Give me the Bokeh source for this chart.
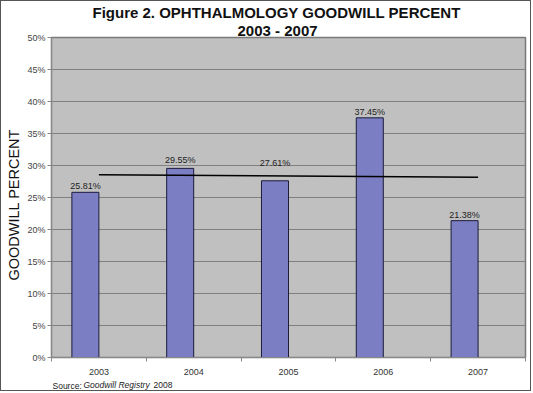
import numpy as np
from bokeh.plotting import figure
from bokeh.models import (Range1d, FixedTicker, Title, ColumnDataSource,
                          PrintfTickFormatter)
from bokeh.core.properties import value
from bokeh.embed import file_html
from bokeh.resources import INLINE

years = ["2003", "2004", "2005", "2006", "2007"]
goodwill = [25.81, 29.55, 27.61, 37.45, 21.38]
value_labels = ["25.81%", "29.55%", "27.61%", "37.45%", "21.38%"]
y_ticks = [0, 5, 10, 15, 20, 25, 30, 35, 40, 45, 50]

# label lift above each bar (px); the 2005 label sits above the trendline
label_lift = [-6, -8, -18, -6, -6]

FONT = "Liberation Sans"

centers = np.arange(len(years)) + 0.5
bar_w = 0.285
bar_x = centers - bar_w / 2

p = figure(width=531, height=391, output_backend="svg", toolbar_location=None,
           x_range=Range1d(0, 5), y_range=Range1d(0, 50),
           min_border_left=50, min_border_right=7, min_border_top=36,
           min_border_bottom=35)
p.styles = {"border": "1px solid #555555"}
p.border_fill_color = "white"
p.background_fill_color = "#c0c0c0"
p.outline_line_color = "#7a7a7a"
p.outline_line_width = 1.5

# title: first line is the figure's own title (outermost)
p.title.text = "Figure 2. OPHTHALMOLOGY GOODWILL PERCENT"
p.title.align = "left"
p.title.offset = 41
p.title.text_font = FONT
p.title.text_font_size = "15px"
p.title.text_font_style = "bold"
p.title.text_color = "#111111"
p.title.standoff = 0
p.add_layout(Title(text="2003 - 2007", align="left", offset=186,
                   text_font=FONT, text_font_size="15px",
                   text_font_style="bold", text_color="#111111", standoff=-2),
             "above")

src = ColumnDataSource(dict(x=bar_x, top=goodwill, lab=value_labels, dy=label_lift))
p.vbar(x="x", top="top", bottom=0, width=bar_w, source=src,
       fill_color="#7b7ec2", line_color="#1c1c3c", line_width=1)
p.text(x="x", y="top", text="lab", source=src, text_align="center",
       text_baseline="alphabetic", y_offset="dy", text_font=value(FONT),
       text_font_size="9px", text_color="#222222")

# linear trendline across category centres
coef = np.polyfit(np.arange(len(goodwill)), goodwill, 1)
trend = np.polyval(coef, np.arange(len(goodwill)))
p.line([centers[0], centers[-1]], [trend[0], trend[-1]], line_color="black",
       line_width=1.6)

# axes
p.yaxis.ticker = FixedTicker(ticks=y_ticks)
p.yaxis.formatter = PrintfTickFormatter(format="%d%%")
p.yaxis.major_label_text_font = FONT
p.yaxis.major_label_text_font_size = "9px"
p.yaxis.major_label_text_color = "#444444"
p.yaxis.major_label_standoff = 2
p.yaxis.major_tick_out = 4
p.yaxis.major_tick_in = 0
p.yaxis.minor_tick_out = 0
p.yaxis.minor_tick_in = 0
p.yaxis.axis_line_color = "#888888"
p.yaxis.major_tick_line_color = "#888888"

p.add_layout(Title(text="GOODWILL PERCENT", align="left", offset=77,
                   text_font=FONT, text_font_size="14.5px", text_font_style="normal",
                   text_color="#111111", standoff=5), "left")

p.xaxis.ticker = FixedTicker(ticks=list(centers), minor_ticks=list(range(6)))
p.xaxis.major_label_overrides = {float(c): y for c, y in zip(centers, years)}
p.xaxis.major_label_text_font = FONT
p.xaxis.major_label_text_font_size = "9px"
p.xaxis.major_label_text_color = "#333333"
p.xaxis.major_label_standoff = 7
p.xaxis.major_tick_out = 0
p.xaxis.major_tick_in = 0
p.xaxis.minor_tick_out = 4
p.xaxis.minor_tick_in = 0
p.xaxis.axis_line_color = "#888888"
p.xaxis.minor_tick_line_color = "#888888"

p.xgrid.grid_line_color = None
p.ygrid.grid_line_color = "#808080"
p.ygrid.grid_line_width = 1

# source note, three pieces on one row
p.add_layout(Title(text="Source:", align="left", offset=1, text_font=FONT,
                   text_font_size="8.5px", text_font_style="normal",
                   text_color="#222222", standoff=2), "below")
p.add_layout(Title(text="Goodwill Registry", align="left", offset=32, text_font=FONT,
                   text_font_size="8.5px", text_font_style="italic",
                   text_color="#222222", standoff=-24, vertical_align="top"),
             "below")
p.add_layout(Title(text="2008", align="left", offset=102, text_font=FONT,
                   text_font_size="8.5px", text_font_style="normal",
                   text_color="#222222", standoff=-20, vertical_align="top"),
             "below")

open("out.html", "w").write(file_html(p, INLINE))
